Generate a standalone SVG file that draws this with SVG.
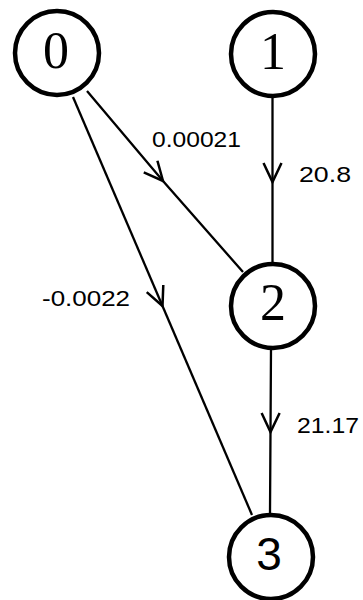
<svg xmlns="http://www.w3.org/2000/svg" width="363" height="600" viewBox="0 0 363 600">
<style>
.node{fill:none;stroke:#000;stroke-width:4.5}
.edge{fill:none;stroke:#000;stroke-width:2.3;marker-mid:url(#v)}
.nl{font-family:"Liberation Serif",serif;font-size:52px;text-anchor:middle;fill:#000}
.nls{font-family:"Liberation Sans",sans-serif;font-size:46px;text-anchor:middle;fill:#000}
.el{font-family:"Liberation Sans",sans-serif;font-size:22.5px;fill:#000}
</style>
<defs>
<marker id="v" markerUnits="userSpaceOnUse" markerWidth="40" markerHeight="40" refX="20" refY="20" orient="auto" viewBox="0 0 40 40" overflow="visible">
<path d="M1,11 L20,20 L1,29" fill="none" stroke="#000" stroke-width="2.5"/>
</marker>
</defs>
<g id="edges">
<path class="edge" d="M87,91 L163,181 L243,272"/>
<path class="edge" d="M73,97 L162.5,306 L252,515"/>
<path class="edge" d="M272.5,96 L272.5,182 L272.5,264"/>
<path class="edge" d="M271,348 L270.5,432 L270,513"/>
<text class="el" x="152" y="147" textLength="89" lengthAdjust="spacingAndGlyphs">0.00021</text>
<text class="el" x="299" y="182" textLength="52" lengthAdjust="spacingAndGlyphs">20.8</text>
<text class="el" x="42" y="306" textLength="88" lengthAdjust="spacingAndGlyphs">-0.0022</text>
<text class="el" x="297" y="433" textLength="62" lengthAdjust="spacingAndGlyphs">21.17</text>
</g>
<g id="node0"><circle class="node" cx="57" cy="53" r="42"/><text class="nl" x="56" y="68">0</text></g>
<g id="node1"><circle class="node" cx="273" cy="54" r="42"/><text class="nl" x="273" y="69">1</text></g>
<g id="node2"><circle class="node" cx="273" cy="306" r="42"/><text class="nl" x="273" y="320">2</text></g>
<g id="node3"><circle class="node" cx="271" cy="557" r="42"/><text class="nls" x="269" y="570">3</text></g>
</svg>
